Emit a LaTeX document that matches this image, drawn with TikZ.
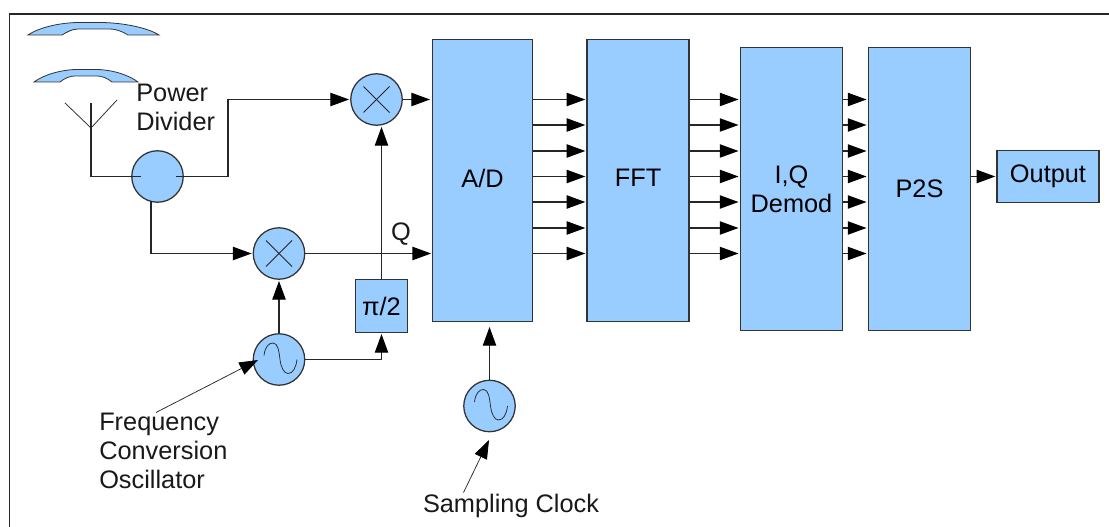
\documentclass[tikz,border=0pt]{standalone}
\usepackage{fontspec}
\setmainfont{Liberation Sans}
\usetikzlibrary{arrows.meta}
\definecolor{blk}{HTML}{99CCFF}
\definecolor{edgec}{HTML}{333333}
\tikzset{
  block/.style={draw=edgec,fill=blk,line width=0.95pt,inner sep=0pt,align=center,text=black},
  disc/.style={circle,draw=edgec,fill=blk,line width=0.95pt,inner sep=0pt,minimum size=38.6pt},
  wire/.style={draw=black!85,line width=0.85pt},
  arr/.style={wire,-{Triangle[length=14pt,width=10pt,fill=black,color=black]},shorten >=0.8pt},
  thinwire/.style={draw=black!85,line width=0.55pt},
  thinarr/.style={thinwire,-{Triangle[length=14pt,width=10pt,fill=black,color=black]}},
  lens/.style={draw=edgec,fill=blk,line width=0.6pt},
  lbl/.style={inner sep=0pt,align=left,text=black!90}
}
\begin{document}
\begin{tikzpicture}[x=0.75pt,y=-0.75pt,font=\fontsize{19}{21.8}\selectfont]
\useasboundingbox (0,0) rectangle (1109,527);
\fill[white] (0,0) rectangle (1109,527);
\draw[line width=0.95pt,draw=black!85] (9.5,527) -- (9.5,14) -- (1109,14);
% reflectors
\draw[lens] (28,35) .. controls (40,27) and (60,23) .. (77,22.5) -- (102,22.5) .. controls (125,23) and (148,28) .. (159,35) -- (128,35) .. controls (122,31) and (115,29) .. (110,29) -- (78,29) .. controls (72,29) and (67,32) .. (62,35) -- cycle;
\draw[lens] (34,82) .. controls (45,74) and (62,70) .. (75,69.5) -- (97,69.5) .. controls (115,70) and (130,76) .. (138,82) -- (112,82) .. controls (107,78) and (102,76) .. (97,76) -- (75,76) .. controls (70,76) and (65,78) .. (60,82) -- cycle;
% blocks
\node[block,minimum width=74.5pt,minimum height=212pt] (ad) at (482.5,180.5) {\raisebox{3.5pt}{A/D}};
\node[block,minimum width=76.5pt,minimum height=212pt] (fft) at (638,180.5) {\raisebox{3.5pt}{FFT}};
\node[block,minimum width=77pt,minimum height=212pt] (iq) at (791.5,189) {I,Q\\Demod};
\node[block,minimum width=77pt,minimum height=212pt] (ps) at (919.5,189) {P2S};
\node[block,minimum width=76.5pt,minimum height=38.6pt] (out) at (1048,176.5) {\raisebox{-2pt}{Output}};
\node[block,minimum width=38.6pt,minimum height=39.5pt] (shift) at (381.5,306) {π/2};
% circles
\node[disc] (pd) at (157.5,176.5) {};
\node[disc] (mixa) at (376.5,99.5) {};
\node[disc] (mixb) at (279,253.5) {};
\node[disc] (osc) at (279,359.5) {};
\node[disc] (clk) at (489.5,406) {};
% mixer crosses
\foreach \m in {mixa,mixb}{
  \begin{scope}[shift={(\m.center)}]
    \draw[thinwire] (-13,-13) -- (13,13);
    \draw[thinwire] (-13,13) -- (13,-13);
  \end{scope}
}
% sine symbols
\foreach \m in {osc,clk}{
  \begin{scope}[shift={(\m.center)}]
    \draw[thinwire] (-15,-4) .. controls (-14,-13) and (-10,-16.5) .. (-6,-16.5) .. controls (-1,-16.5) and (0,-8) .. (1,0) .. controls (2,8) and (5,14) .. (9,14) .. controls (14,14) and (17,8) .. (18,0);
  \end{scope}
}
% antenna
\coordinate (anttip) at (91,103);
\coordinate (antbase) at (91,128);
\coordinate (antl) at (65,103);
\coordinate (antr) at (117,100);
\coordinate (antfoot) at (91,176.5);
\coordinate (pdin) at (141,176.5);
\coordinate (pdout) at (176,176.5);
\coordinate (pdbot) at (151,201.5);
\draw[thinwire] (antl) -- (antbase) -- (antr);
\draw[wire] (anttip) -- (antfoot) -- (pdin);
\draw[arr] (pdout) -- (228,176.5) -- (228,99.5) -- (mixa.west);
\draw[arr] (pdbot) -- (151,253.5) -- (mixb.west);
\draw[arr] (mixb.east) -- (mixb.east -| ad.west);
\coordinate (gapa) at (430,99.5);
\draw[arr,shorten >=0pt] (mixa.east) -- (gapa);
\draw[arr] (shift.north) -- (shift.north |- mixa.south);
\draw[arr] (osc.north) -- (mixb.south);
\draw[arr] (osc.east) -- (osc.east -| shift.south) -- (shift.south);
\coordinate (gapb) at (489.5,327);
\draw[arr,shorten >=0pt] (clk.north) -- (gapb);
% parallel buses
\foreach \y in {99.5,125,151,176.5,202,228,253.5}{
  \draw[arr] (ad.east |- 0,\y) -- (fft.west |- 0,\y);
  \draw[arr] (fft.east |- 0,\y) -- (iq.west |- 0,\y);
  \draw[arr] (iq.east |- 0,\y) -- (ps.west |- 0,\y);
}
\draw[arr] (ps.east |- out.west) -- (out.west);
% labels
\node[lbl,anchor=west] (powerlbl) at (136,107.5) {Power\\Divider};
\node[lbl] (qlbl) at (401,234.5) {Q};
\node[lbl,anchor=west] (freqlbl) at (99,450.5) {Frequency\\Conversion\\Oscillator};
\node[lbl] (clklbl) at (511,505.5) {Sampling Clock};
\coordinate (freqtail) at (156,412.5);
\coordinate (clktail) at (463.5,492.5);
\coordinate (clktip) at (489,440);
\coordinate (osctip) at (258,360);
\draw[thinarr] (freqtail) -- (osctip);
\draw[thinarr] (clktail) -- (clktip);
\end{tikzpicture}
\end{document}
